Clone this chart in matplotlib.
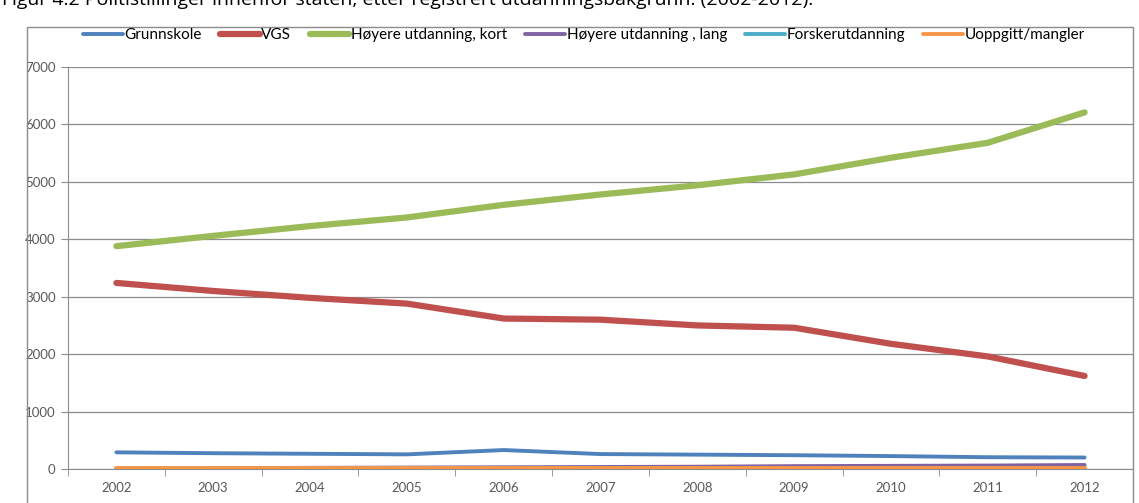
import matplotlib
matplotlib.use("Agg")
import matplotlib.pyplot as plt
from matplotlib.patches import Rectangle

years = ["2002", "2003", "2004", "2005", "2006", "2007", "2008", "2009", "2010", "2011", "2012"]
grunnskole = [290, 275, 265, 255, 330, 260, 250, 240, 225, 205, 200]
vgs = [3240, 3100, 2980, 2880, 2620, 2600, 2500, 2460, 2180, 1960, 1620]
hoyere_kort = [3880, 4060, 4230, 4380, 4600, 4780, 4940, 5130, 5420, 5680, 6210]
hoyere_lang = [10, 15, 20, 25, 30, 35, 40, 50, 55, 60, 70]
forsker = [5, 5, 5, 5, 5, 5, 5, 5, 5, 5, 5]
uoppgitt = [10, 10, 10, 10, 10, 10, 10, 10, 10, 10, 10]
yticks = [0, 1000, 2000, 3000, 4000, 5000, 6000, 7000]

plt.rcParams['font.family'] = ['Lato', 'DejaVu Sans']

fig = plt.figure(figsize=(11.39, 5.03), dpi=100)
W, H = 1139, 503
# chart frame
fig.patches.append(Rectangle((27 / W, -0.02), (1133 - 27) / W, 1.02 - 27 / H,
                             transform=fig.transFigure, fill=False, edgecolor='#8c8c8c', lw=1.0))
fig.text(2 / W, 1 - 5 / H, "Figur 4.2 Politistillinger innenfor staten, etter registrert utdanningsbakgrunn. (2002-2012).",
         fontsize=14, va='baseline', ha='left', color='black', family=['Open Sans', 'DejaVu Sans'])

ax = fig.add_axes([68 / W, 1 - 469 / H, (1133 - 68) / W, (469 - 67) / H])
x = list(range(len(years)))
series = [
    ("Grunnskole", grunnskole, '#4F81BD', 2.8),
    ("VGS", vgs, '#C0504D', 4.5),
    ("Høyere utdanning, kort", hoyere_kort, '#9BBB59', 4.5),
    ("Høyere utdanning , lang", hoyere_lang, '#8064A2', 2.8),
    ("Forskerutdanning", forsker, '#4BACC6', 2.8),
    ("Uoppgitt/mangler", uoppgitt, '#F79646', 2.8),
]
for name, vals, c, lw in series:
    ax.plot(x, vals, color=c, lw=lw, label=name, solid_capstyle='round', solid_joinstyle='round')

ax.set_xlim(-0.5, len(years) - 0.5)
ax.set_ylim(0, 7000)
ax.set_yticks(yticks)
ax.set_yticklabels([str(v) for v in yticks])
ax.set_xticks(x)
ax.set_xticklabels(years)
ax.set_xticks([i - 0.5 for i in range(len(years) + 1)], minor=True)
ax.tick_params(axis='x', which='major', length=0, pad=9, labelsize=9.5, labelcolor='#595959')
ax.tick_params(axis='x', which='minor', length=5, color='#8c8c8c', direction='out')
ax.tick_params(axis='y', length=5, color='#8c8c8c', labelsize=9.5, labelcolor='#595959', pad=4)
ax.grid(axis='y', color='#8c8c8c', lw=0.9)
ax.set_axisbelow(True)
for s in ['top', 'right']:
    ax.spines[s].set_visible(False)
for s in ['left', 'bottom']:
    ax.spines[s].set_color('#8c8c8c')

fig.legend(loc='center', bbox_to_anchor=(584 / W, 1 - 35 / H), ncol=6, frameon=False,
           fontsize=11, handlelength=2.6, handletextpad=0.1, columnspacing=1.2)

fig.savefig("out.png", dpi=100)
